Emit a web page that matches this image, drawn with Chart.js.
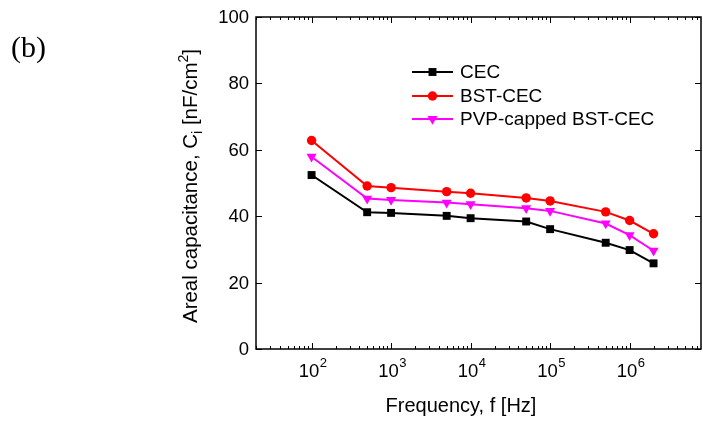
<!DOCTYPE html>
<html>
<head>
<meta charset="utf-8">
<script src="https://cdn.jsdelivr.net/npm/chart.js@4/dist/chart.umd.min.js"></script>
<style>
html,body{margin:0;padding:0;background:#fff;overflow:hidden;}
#wrap{width:703px;height:424px;}
canvas{display:block;}
</style>
</head>
<body>
<div id="wrap"><canvas id="c" width="703" height="424"></canvas></div>
<script>
// ---- data ----
const frequencies = [100, 500, 1000, 5000, 10000, 50000, 100000, 500000, 1000000, 2000000];
const cecValues = [52.4, 41.2, 41.0, 40.1, 39.4, 38.4, 36.1, 32.0, 29.8, 25.8];
const bstCecValues = [62.8, 49.1, 48.6, 47.4, 46.9, 45.5, 44.6, 41.3, 38.7, 34.7];
const pvpBstCecValues = [57.9, 45.3, 44.9, 44.1, 43.6, 42.4, 41.6, 37.8, 34.3, 29.6];
const seriesNames = ["CEC", "BST-CEC", "PVP-capped BST-CEC"];
const xMajorTicks = [100, 1000, 10000, 100000, 1000000];
const xTickExponents = ["2", "3", "4", "5", "6"];
const yTicks = [0, 20, 40, 60, 80, 100];
const yTickLabels = ["0", "20", "40", "60", "80", "100"];

const FONT = '"Liberation Sans", Arial, sans-serif';

function pts(vals){ return frequencies.map((f,i)=>({x:f, y:vals[i]})); }

const datasets = [
  {label: seriesNames[0], data: pts(cecValues), borderColor:'#000000', backgroundColor:'#000000',
   pointStyle:'rect', pointRadius:5.6, pointRotation:0},
  {label: seriesNames[1], data: pts(bstCecValues), borderColor:'#ff0000', backgroundColor:'#ff0000',
   pointStyle:'circle', pointRadius:4.7, pointRotation:0},
  {label: seriesNames[2], data: pts(pvpBstCecValues), borderColor:'#ff00ff', backgroundColor:'#ff00ff',
   pointStyle:'triangle', pointRadius:5.8, pointRotation:180}
].map(d=>Object.assign(d,{borderWidth:2, pointBorderWidth:0, tension:0, fill:false}));

function drawMarker(ctx, style, x, y, r, color){
  ctx.save();
  ctx.fillStyle = color;
  ctx.beginPath();
  if(style==='rect'){
    const s = Math.SQRT1_2*r;
    ctx.rect(x-s, y-s, 2*s, 2*s);
  } else if(style==='circle'){
    ctx.arc(x, y, r, 0, Math.PI*2);
  } else {
    ctx.moveTo(x, y + r);
    ctx.lineTo(x - r*Math.sin(Math.PI/3), y - r*0.5);
    ctx.lineTo(x + r*Math.sin(Math.PI/3), y - r*0.5);
    ctx.closePath();
  }
  ctx.fill();
  ctx.restore();
}

const framePlugin = {
  id:'framePlugin',
  afterDraw(chart){
    const ctx = chart.ctx;
    const a = chart.chartArea;
    const xs = chart.scales.x, ys = chart.scales.y;
    ctx.save();
    ctx.strokeStyle = '#000';
    ctx.lineWidth = 1.5;
    ctx.strokeRect(a.left, a.top, a.right - a.left, a.bottom - a.top);

    ctx.lineWidth = 1;
    const minExp = Math.floor(Math.log10(xs.min)), maxExp = Math.ceil(Math.log10(xs.max));
    for(let e=minExp; e<=maxExp; e++){
      for(let m=1; m<=9; m++){
        const v = m*Math.pow(10,e);
        if(v < xs.min || v > xs.max) continue;
        const px = Math.round(xs.getPixelForValue(v)) + 0.5;
        const len = (m===1) ? 6 : 3;
        ctx.beginPath();
        ctx.moveTo(px, a.bottom); ctx.lineTo(px, a.bottom - len);
        ctx.moveTo(px, a.top); ctx.lineTo(px, a.top + len);
        ctx.stroke();
      }
    }
    yTicks.forEach(v=>{
      const py = Math.round(ys.getPixelForValue(v)) + 0.5;
      ctx.beginPath();
      ctx.moveTo(a.left, py); ctx.lineTo(a.left + 6, py);
      ctx.moveTo(a.right, py); ctx.lineTo(a.right - 6, py);
      ctx.stroke();
    });

    ctx.fillStyle = '#000';
    ctx.font = '18.5px ' + FONT;
    ctx.textAlign = 'right';
    ctx.textBaseline = 'middle';
    yTicks.forEach((v,i)=>{
      ctx.fillText(yTickLabels[i], a.left - 7, ys.getPixelForValue(v) + 1);
    });

    ctx.textBaseline = 'alphabetic';
    ctx.textAlign = 'left';
    xMajorTicks.forEach((v,i)=>{
      const px = xs.getPixelForValue(v);
      ctx.font = '18.5px ' + FONT;
      const w1 = ctx.measureText('10').width;
      ctx.font = '13px ' + FONT;
      const w2 = ctx.measureText(xTickExponents[i]).width;
      const x0 = px - (w1 + w2)/2 + 1;
      ctx.font = '18.5px ' + FONT;
      ctx.fillText('10', x0, 377);
      ctx.font = '13px ' + FONT;
      ctx.fillText(xTickExponents[i], x0 + w1 + 0.5, 367);
    });

    ctx.font = '20px ' + FONT;
    ctx.textAlign = 'center';
    ctx.fillText('Frequency, f [Hz]', 461, 412);

    ctx.save();
    ctx.translate(197, 186);
    ctx.rotate(-Math.PI/2);
    const parts = [
      {t:'Areal capacitance, C', f:20.5, dy:0},
      {t:'i', f:14, dy:5},
      {t:' [nF/cm', f:20.5, dy:0},
      {t:'2', f:14, dy:-9},
      {t:']', f:20.5, dy:0}
    ];
    let total = 0;
    parts.forEach(p=>{ ctx.font = p.f+'px '+FONT; p.w = ctx.measureText(p.t).width; total += p.w; });
    let cx = -total/2;
    ctx.textAlign = 'left';
    parts.forEach(p=>{ ctx.font = p.f+'px '+FONT; ctx.fillText(p.t, cx, p.dy); cx += p.w; });
    ctx.restore();

    const rows = [72, 96, 119];
    chart.data.datasets.forEach((d,i)=>{
      const y = rows[i];
      ctx.strokeStyle = d.borderColor;
      ctx.lineWidth = 2;
      ctx.beginPath(); ctx.moveTo(412, y); ctx.lineTo(453, y); ctx.stroke();
      drawMarker(ctx, d.pointStyle, 432.5, y, d.pointRadius, d.backgroundColor);
      ctx.fillStyle = '#000';
      ctx.font = '19px ' + FONT;
      ctx.textAlign = 'left';
      ctx.textBaseline = 'middle';
      ctx.fillText(d.label, 460, y + 1);
    });

    ctx.font = '30px "Liberation Serif", "Times New Roman", serif';
    ctx.textAlign = 'left';
    ctx.textBaseline = 'alphabetic';
    ctx.fillText('(b)', 11, 57);
    ctx.restore();
  }
};

new Chart(document.getElementById('c'), {
  type:'line',
  data:{ datasets },
  options:{
    responsive:false,
    devicePixelRatio:1,
    animation:false,
    layout:{ autoPadding:false, padding:{ left:256, top:17, right:2, bottom:75 } },
    plugins:{ legend:{display:false}, tooltip:{enabled:false} },
    scales:{
      x:{ type:'logarithmic', min:20, max:7.9e6, display:false },
      y:{ type:'linear', min:0, max:100, display:false }
    }
  },
  plugins:[framePlugin]
});
</script>
</body>
</html>
